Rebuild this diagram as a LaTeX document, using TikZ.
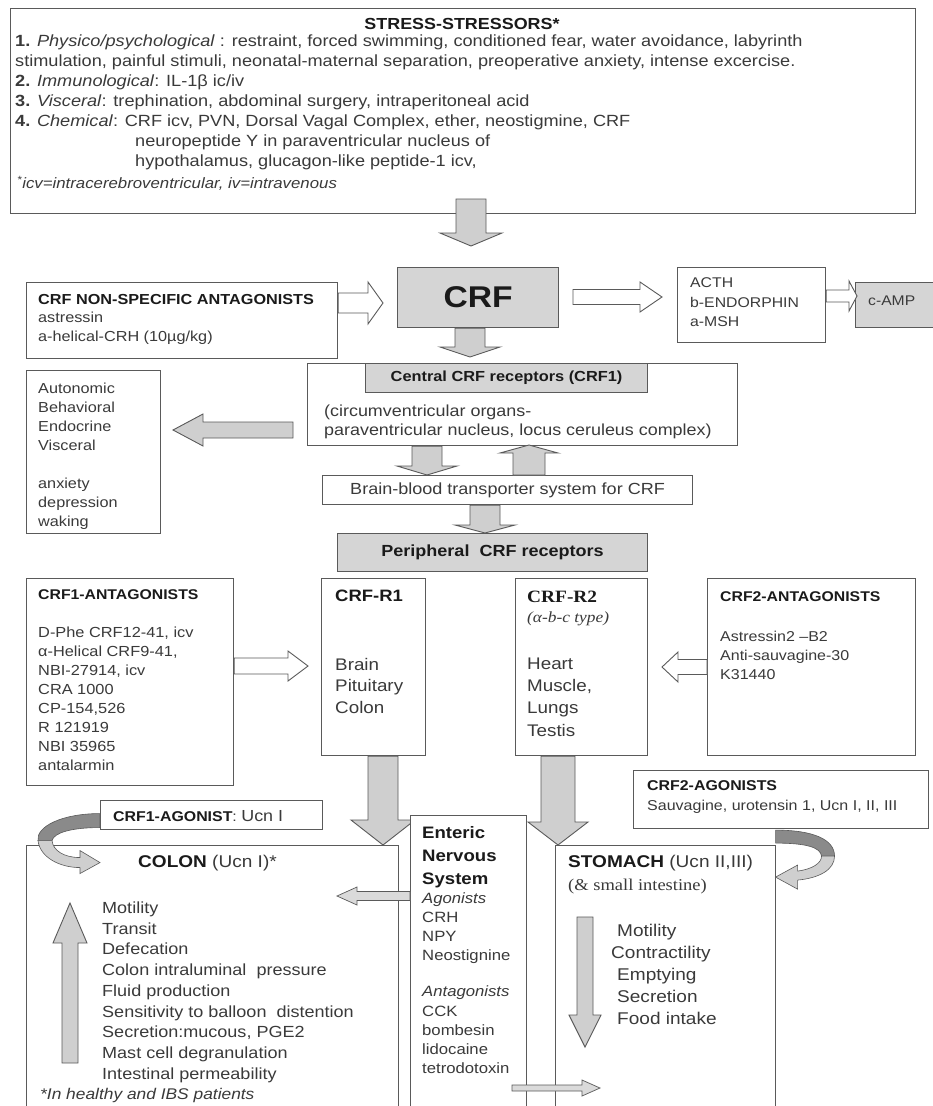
\documentclass[tikz,border=0pt]{standalone}
\usepackage{fontspec}
\setmainfont{Liberation Sans}[FakeStretch=1.12]
\newfontfamily\serifF{Liberation Serif}[FakeStretch=1.12]
\usetikzlibrary{calc}
\definecolor{bordc}{HTML}{5A5A5A}
\definecolor{boxg}{HTML}{D5D5D5}
\definecolor{arrg}{HTML}{CFCFCF}
\definecolor{ltarr}{HTML}{DADADA}
\definecolor{ribd}{HTML}{8A8A8A}
\definecolor{txtc}{HTML}{3A3A3A}
\definecolor{ttlc}{HTML}{1A1A1A}
\newcommand\fsz[2]{\fontsize{#1}{#2}\selectfont}
% block arrows: [style]{tail}{tip}{half shaft}{half head}{head length}
\newcommand\darr[6][]{\filldraw[#1] ($(#2 -| #3)+(-#4,0)$) -- ($(#3)+(-#4,-#6)$) -- ($(#3)+(-#5,-#6)$) -- (#3) -- ($(#3)+(#5,-#6)$) -- ($(#3)+(#4,-#6)$) -- ($(#2 -| #3)+(#4,0)$) -- cycle;}
\newcommand\uarr[6][]{\filldraw[#1] ($(#2 -| #3)+(-#4,0)$) -- ($(#3)+(-#4,#6)$) -- ($(#3)+(-#5,#6)$) -- (#3) -- ($(#3)+(#5,#6)$) -- ($(#3)+(#4,#6)$) -- ($(#2 -| #3)+(#4,0)$) -- cycle;}
\newcommand\rarr[6][]{\filldraw[#1] ($(#2 |- #3)+(0,-#4)$) -- ($(#3)+(-#6,-#4)$) -- ($(#3)+(-#6,-#5)$) -- (#3) -- ($(#3)+(-#6,#5)$) -- ($(#3)+(-#6,#4)$) -- ($(#2 |- #3)+(0,#4)$) -- cycle;}
\newcommand\larr[6][]{\filldraw[#1] ($(#2 |- #3)+(0,-#4)$) -- ($(#3)+(#6,-#4)$) -- ($(#3)+(#6,-#5)$) -- (#3) -- ($(#3)+(#6,#5)$) -- ($(#3)+(#6,#4)$) -- ($(#2 |- #3)+(0,#4)$) -- cycle;}
\begin{document}
\begin{tikzpicture}[x=1pt,y=-1pt,
  box/.style={draw=bordc,line width=1.1pt,fill=white,inner sep=0pt,anchor=north west},
  gbox/.style={box,fill=boxg},
  txt/.style={inner sep=0pt,anchor=north west,align=left,text=txtc},
  ltxt/.style={inner sep=0pt,anchor=west,text=txtc},
  garr/.style={fill=arrg,draw=bordc,line width=0.9pt},
  warr/.style={fill=white,draw=bordc,line width=0.9pt},
  lgarr/.style={fill=ltarr,draw=bordc,line width=0.7pt},
  ribdark/.style={fill=ribd,draw=bordc,line width=0.6pt},
  riblight/.style={fill=arrg,draw=bordc,line width=0.6pt}]
\useasboundingbox (0,0) rectangle (933,1106);
\clip (0,0) rectangle (933,1106);
\fill[white] (0,0) rectangle (933,1106);

% ---------- top box
\node[box,minimum width=905pt,minimum height=205pt] (top) at (10,8) {};
\node[txt,anchor=center,font=\fsz{16}{18}\bfseries,text=ttlc] (ttl) at (462,24) {STRESS-STRESSORS*};
\node[txt,font=\fsz{16.2}{20}] (tbody) at (15,35) {%
\textbf{1.} \textit{Physico/psychological} : restraint, forced swimming, conditioned fear, water avoidance, labyrinth\\
stimulation, painful stimuli, neonatal-maternal separation, preoperative anxiety, intense excercise.\\
\textbf{2.} \textit{Immunological}: IL-1β ic/iv\\
\textbf{3.} \textit{Visceral}: trephination, abdominal surgery, intraperitoneal acid\\
\textbf{4.} \textit{Chemical}: CRF icv, PVN, Dorsal Vagal Complex, ether, neostigmine, CRF\\
\hspace*{120pt}neuropeptide Y in paraventricular nucleus of\\
\hspace*{120pt}hypothalamus, glucagon-like peptide-1 icv,};
\node[txt,font=\fsz{15}{17}\itshape] (tfoot) at (17,176) {\textsuperscript{*}icv=intracerebroventricular, iv=intravenous};

% ---------- CRF row
\node[gbox,minimum width=161pt,minimum height=60pt,font=\fsz{30}{34}\bfseries,text=ttlc] (crf) at (397,267) {CRF};
\node[box,minimum width=311pt,minimum height=76pt] (nsa) at (26,282) {};
\node[txt,font=\fsz{14.5}{18.5}] (nsat) at (38,294) {{\color{ttlc}\bfseries CRF NON-SPECIFIC ANTAGONISTS}\\astressin\\a-helical-CRH (10µg/kg)};
\node[box,minimum width=148pt,minimum height=75pt] (acth) at (677,267) {};
\node[txt,font=\fsz{14.1}{19.5}] (actht) at (690,277.5) {ACTH\\b-ENDORPHIN\\a-MSH};
\node[gbox,minimum width=90pt,minimum height=45pt] (camp) at (855,282) {};
\node[ltxt,font=\fsz{14}{16}] (campt) at (868,301) {c-AMP};

% ---------- central
\node[box,minimum width=430pt,minimum height=82pt] (central) at (307,363) {};
\node[gbox,minimum width=282pt,minimum height=29pt,font=\fsz{14.6}{17}\bfseries,text=ttlc] (centhdr) at (365,363) {Central CRF receptors (CRF1)};
\node[txt,font=\fsz{16}{19}] (centt) at (324,405) {(circumventricular organs-\\paraventricular nucleus, locus ceruleus complex)};
\node[box,minimum width=134pt,minimum height=163pt] (eff) at (26,370) {};
\node[txt,font=\fsz{14.5}{19}] (efft) at (38,383) {Autonomic\\Behavioral\\Endocrine\\Visceral\\[19pt]anxiety\\depression\\waking};
\node[box,minimum width=370pt,minimum height=29pt,font=\fsz{16.1}{18}] (bb) at (322,475) {\color{txtc}Brain-blood transporter system for CRF};
\node[gbox,minimum width=310pt,minimum height=38pt,font=\fsz{16.1}{18}\bfseries,text=ttlc] (periph) at (337,533) {Peripheral\ \ CRF receptors};

% ---------- receptor row
\node[box,minimum width=207pt,minimum height=207pt] (ant1) at (26,578) {};
\node[txt,font=\fsz{14.1}{17}\bfseries,text=ttlc] (ant1t) at (38,589.5) {CRF1-ANTAGONISTS};
\node[txt,font=\fsz{14.6}{18.9}] (ant1l) at (38,627) {D-Phe CRF12-41, icv\\α-Helical CRF9-41,\\NBI-27914, icv\\CRA 1000\\CP-154,526\\R 121919\\NBI 35965\\antalarmin};
\node[box,minimum width=104pt,minimum height=177pt] (r1) at (321,578) {};
\node[txt,font=\fsz{16.5}{20}\bfseries,text=ttlc] (r1t) at (335,590) {CRF-R1};
\node[txt,font=\fsz{16.8}{21.5}] (r1l) at (335,658) {Brain\\Pituitary\\Colon};
\node[box,minimum width=132pt,minimum height=177pt] (r2) at (515,578) {};
\node[txt,font=\serifF\fsz{17.3}{20}\bfseries,text=ttlc] (r2t) at (527,590.5) {CRF-R2};
\node[txt,font=\serifF\fsz{15.5}{18}\itshape] (r2s) at (527,612) {(α-b-c type)};
\node[txt,font=\fsz{16.8}{22.3}] (r2l) at (527,657.5) {Heart\\Muscle,\\Lungs\\Testis};
\node[box,minimum width=208pt,minimum height=177pt] (ant2) at (707,578) {};
\node[txt,font=\fsz{14.1}{17}\bfseries,text=ttlc] (ant2t) at (720,591.5) {CRF2-ANTAGONISTS};
\node[txt,font=\fsz{14.3}{19}] (ant2l) at (720,631) {Astressin2 –B2\\Anti-sauvagine-30\\K31440};

% ---------- agonists
\node[box,minimum width=295pt,minimum height=58pt] (ag2) at (633,770) {};
\node[txt,font=\fsz{14.2}{17}\bfseries,text=ttlc] (ag2t) at (647,780.5) {CRF2-AGONISTS};
\node[txt,font=\fsz{14.3}{17}] (ag2l) at (647,799.5) {Sauvagine, urotensin 1, Ucn I, II, III};
\node[box,minimum width=222pt,minimum height=29pt] (ag1) at (100,800) {};
\node[ltxt,font=\fsz{14.2}{16}] (ag1t) at (113,816) {{\color{ttlc}\bfseries CRF1-AGONIST}: {\fsz{16}{18}Ucn I}};

% ---------- organs
\node[box,minimum width=372pt,minimum height=275pt] (colon) at (26,845) {};
\node[box,minimum width=220pt,minimum height=275pt] (stomach) at (555,845) {};

% ---------- arrows
\coordinate (a1s) at (471,199); \coordinate (a1e) at (471,246);
\darr[garr]{a1s}{a1e}{15}{31}{13}
\coordinate (a2e) at (470,357);
\darr[garr]{crf.south}{a2e}{15}{30}{10}
\coordinate (a3e) at (383,303);
\rarr[warr]{nsa.east}{a3e}{10}{21}{15}
\coordinate (a4s) at (573,297); \coordinate (a4e) at (662,297);
\rarr[warr]{a4s}{a4e}{7.5}{15}{22}
\coordinate (a5e) at (857,296);
\rarr[warr]{acth.east}{a5e}{6}{15}{8}
\coordinate (a6s) at (293,430); \coordinate (a6e) at (173,430);
\larr[garr]{a6s}{a6e}{8}{16}{30}
\coordinate (a7e) at (427,475);
\darr[garr]{central.south}{a7e}{15}{30}{9}
\coordinate (a8e) at (529,445);
\uarr[garr]{bb.north}{a8e}{16}{29}{8}
\coordinate (a9e) at (485,533);
\darr[garr]{bb.south}{a9e}{15}{30}{8}
\coordinate (a10e) at (308,666);
\rarr[warr]{ant1.east}{a10e}{8}{15}{20}
\coordinate (a11e) at (662,667);
\larr[warr]{ant2.west}{a11e}{7.5}{15}{16}
\coordinate (a12e) at (383,845);
\darr[garr]{r1.south}{a12e}{15}{32}{25}
\coordinate (a13e) at (558,845);
\darr[garr]{r2.south}{a13e}{17}{30}{23}
\coordinate (a16s) at (70,1063); \coordinate (a16e) at (70,903);
\uarr[garr]{a16s}{a16e}{8}{17}{40}
\coordinate (a17s) at (585,917); \coordinate (a17e) at (585,1047);
\darr[garr]{a17s}{a17e}{8}{16}{32}

% ENS box over the R1 arrow head
\node[box,minimum width=116pt,minimum height=300pt] (ens) at (410,815) {};
\node[txt,font=\fsz{16.6}{23}\bfseries,text=ttlc] (enst) at (422,826) {Enteric\\Nervous\\System};
\node[txt,font=\fsz{14.9}{19.2}] (ensl) at (422,892) {\textit{Agonists}\\CRH\\NPY\\Neostignine\\[17pt]\textit{Antagonists}\\CCK\\bombesin\\lidocaine\\tetrodotoxin};
\coordinate (a14e) at (337,896);
\larr[lgarr]{ens.west}{a14e}{4.5}{9}{20}
\coordinate (a15s) at (512,1088); \coordinate (a15e) at (600,1088);
\rarr[lgarr]{a15s}{a15e}{3}{8}{18}

% organ texts
\node[ltxt,font=\fsz{17}{20}] (colt) at (138,863) {{\color{ttlc}\bfseries COLON} (Ucn I)*};
\node[txt,font=\fsz{16.1}{20.75}] (coll) at (102,901.5) {Motility\\Transit\\Defecation\\Colon intraluminal\ \ pressure\\Fluid production\\Sensitivity to balloon\ \ distention\\Secretion:mucous, PGE2\\Mast cell degranulation\\Intestinal permeability};
\node[ltxt,font=\fsz{15.5}{18}\itshape] (colf) at (40,1095) {*In healthy and IBS patients};
\node[ltxt,font=\fsz{17}{20}] (stot) at (568,863) {{\color{ttlc}\bfseries STOMACH} (Ucn II,III)};
\node[ltxt,font=\serifF\fsz{16.5}{18}] (stos) at (568,887) {(\& small intestine)};
\node[txt,font=\fsz{17}{22}] (stol) at (617,924) {Motility\\\hspace*{-6pt}Contractility\\Emptying\\Secretion\\Food intake};

% curved agonist arrows
\begin{scope}[shift={(ag1.west)}]
\filldraw[ribdark] (0,-1.5) .. controls (-38,-1.5) and (-64,11.5) .. (-62,25.5) -- (-48,25.5) .. controls (-46,17.5) and (-28,12.5) .. (0,12.5) -- cycle;
\filldraw[riblight] (-62,25.5) .. controls (-60,42.5) and (-40,52.5) .. (-20,52.5) -- (-20,58.5) -- (0,47.5) -- (-20,35.5) -- (-20,42.5) .. controls (-36,42.5) and (-47,35.5) .. (-48,25.5) -- cycle;
\end{scope}
\begin{scope}[shift={(ag2.south)}]
\filldraw[ribdark] (-5.5,1) .. controls (31.5,1) and (53.5,10) .. (53.5,27) -- (40.5,27) .. controls (39.5,18) and (24.5,14) .. (-5.5,14) -- cycle;
\filldraw[riblight] (53.5,27) .. controls (53.5,41) and (37.5,49) .. (16.5,51) -- (16.5,60) -- (-5.5,48) -- (16.5,36) -- (16.5,42) .. controls (31.5,40) and (40.5,34) .. (40.5,27) -- cycle;
\end{scope}
\end{tikzpicture}
\end{document}
